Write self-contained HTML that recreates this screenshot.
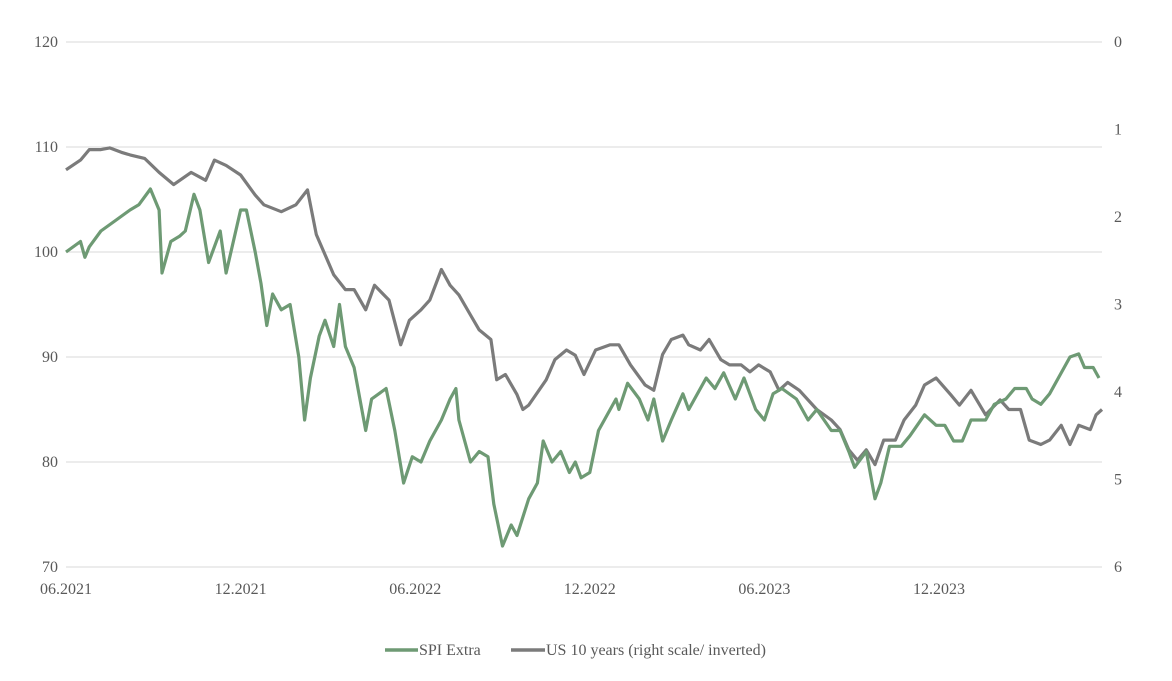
<!DOCTYPE html>
<html><head><meta charset="utf-8">
<style>
html,body{margin:0;padding:0;background:#fff;}
svg{display:block;font-family:"Liberation Serif",serif;}
</style></head>
<body>
<svg id="chart" width="1172" height="681" xmlns="http://www.w3.org/2000/svg"></svg>
<script>
const xTickLabels = ["06.2021","12.2021","06.2022","12.2022","06.2023","12.2023"];
const xTickMonths = [0,6,12,18,24,30];
const leftTicks = [70,80,90,100,110,120];
const rightTicks = [0,1,2,3,4,5,6];
const spiT = [0,0.5,0.65,0.8,1.2,1.7,2.2,2.5,2.9,3.2,3.3,3.6,3.9,4.1,4.4,4.6,4.9,5.3,5.5,6.0,6.2,6.5,6.7,6.9,7.1,7.4,7.7,8.0,8.2,8.4,8.7,8.9,9.2,9.4,9.6,9.9,10.1,10.3,10.5,11.0,11.3,11.6,11.9,12.2,12.5,12.9,13.2,13.4,13.5,13.9,14.2,14.5,14.7,15.0,15.3,15.5,15.9,16.2,16.4,16.7,17.0,17.3,17.5,17.7,18.0,18.3,18.9,19.0,19.3,19.7,20.0,20.2,20.5,20.8,21.2,21.4,22.0,22.3,22.6,23.0,23.3,23.7,24.0,24.3,24.6,25.1,25.5,25.8,26.3,26.6,26.9,27.1,27.5,27.8,28.0,28.3,28.7,29.0,29.5,29.9,30.2,30.5,30.8,31.1,31.6,31.9,32.3,32.6,33.0,33.2,33.5,33.8,34.5,34.8,35.0,35.3,35.5];
const spiV = [100,101,99.5,100.5,102,103,104,104.5,106,104,98,101,101.5,102,105.5,104,99,102,98,104,104,100,97,93,96,94.5,95,90,84,88,92,93.5,91,95,91,89,86,83,86,87,83,78,80.5,80,82,84,86,87,84,80,81,80.5,76,72,74,73,76.5,78,82,80,81,79,80,78.5,79,83,86,85,87.5,86,84,86,82,84,86.5,85,88,87,88.5,86,88,85,84,86.5,87,86,84,85,83,83,81,79.5,81,76.5,78,81.5,81.5,82.5,84.5,83.5,83.5,82,82,84,84,85.5,86,87,87,86,85.5,86.5,90,90.3,89,89,88];
const usT = [0,0.5,0.8,1.2,1.5,1.9,2.2,2.7,3.2,3.7,4.3,4.8,5.1,5.5,6.0,6.5,6.8,7.4,7.9,8.3,8.6,8.9,9.2,9.6,9.9,10.3,10.6,11.1,11.5,11.8,12.2,12.5,12.9,13.2,13.5,13.9,14.2,14.6,14.8,15.1,15.5,15.7,15.9,16.5,16.8,17.2,17.5,17.8,18.2,18.7,19.0,19.4,19.9,20.2,20.5,20.8,21.2,21.4,21.8,22.1,22.5,22.8,23.2,23.5,23.8,24.2,24.5,24.8,25.2,25.8,26.3,26.6,26.9,27.2,27.5,27.8,28.1,28.5,28.8,29.2,29.5,29.9,30.4,30.7,31.1,31.6,32.1,32.4,32.8,33.1,33.5,33.8,34.2,34.5,34.8,35.2,35.4,35.6];
const usV = [1.46,1.35,1.23,1.23,1.21,1.26,1.29,1.33,1.49,1.63,1.49,1.58,1.35,1.41,1.52,1.75,1.86,1.94,1.86,1.69,2.2,2.43,2.66,2.83,2.83,3.06,2.78,2.95,3.46,3.18,3.06,2.95,2.6,2.78,2.89,3.12,3.29,3.4,3.86,3.8,4.03,4.2,4.15,3.86,3.63,3.52,3.58,3.8,3.52,3.46,3.46,3.69,3.92,3.98,3.57,3.4,3.35,3.46,3.52,3.4,3.63,3.69,3.69,3.77,3.69,3.77,3.98,3.89,3.98,4.2,4.32,4.43,4.66,4.78,4.66,4.83,4.55,4.55,4.32,4.15,3.92,3.84,4.03,4.15,3.98,4.26,4.09,4.2,4.2,4.55,4.6,4.55,4.38,4.6,4.38,4.43,4.26,4.2];

const svg = document.getElementById('chart');
const NS = "http://www.w3.org/2000/svg";
const X0=66, X1=1102, Y0=42, Y1=567;
function xs(m){ return X0 + m*29.1; }
function yl(v){ return Y1 - (v-70)/50*(Y1-Y0); }
function yr(v){ return Y0 + v/6*(Y1-Y0); }
function mk(tag, attrs){ const e=document.createElementNS(NS,tag); for(const k in attrs) e.setAttribute(k,attrs[k]); svg.appendChild(e); return e; }

leftTicks.forEach(v=>{
  const g = mk('line',{x1:X0,x2:X1,y1:yl(v),y2:yl(v),stroke:'#d9d9d9','stroke-width':1});
  
  
  const t = mk('text',{x:58,y:yl(v)+5,'text-anchor':'end','font-size':16,fill:'#595959'});
  t.textContent=v;
  
  
});
rightTicks.forEach(v=>{
  const t = mk('text',{x:1114,y:yr(v)+5,'text-anchor':'start','font-size':16,fill:'#595959'});
  t.textContent=v;
  
  
});
xTickLabels.forEach((l,i)=>{
  const t = mk('text',{x:xs(xTickMonths[i]),y:594,'text-anchor':'middle','font-size':16,fill:'#595959'});
  t.textContent=l;
  
  
});
function path(ts, vs, yf){ return ts.map((t,i)=>(i?'L':'M')+xs(t).toFixed(1)+','+yf(vs[i]).toFixed(1)).join(''); }
const pu = mk('path',{d:path(usT,usV,yr),fill:'none',stroke:'#7b7b7b','stroke-width':3.2,'stroke-linejoin':'round'});


const ps = mk('path',{d:path(spiT,spiV,yl),fill:'none',stroke:'#6e9a74','stroke-width':3.2,'stroke-linejoin':'round'});



const l1 = mk('line',{x1:385,x2:418,y1:650,y2:650,stroke:'#6e9a74','stroke-width':3.5});


const lt1 = mk('text',{x:419,y:655,'font-size':16,fill:'#595959'});
lt1.textContent='SPI Extra';


const l2 = mk('line',{x1:511,x2:545,y1:650,y2:650,stroke:'#7b7b7b','stroke-width':3.5});


const lt2 = mk('text',{x:546,y:655,'font-size':16,fill:'#595959'});
lt2.textContent='US 10 years (right scale/ inverted)';


</script>
</body></html>
